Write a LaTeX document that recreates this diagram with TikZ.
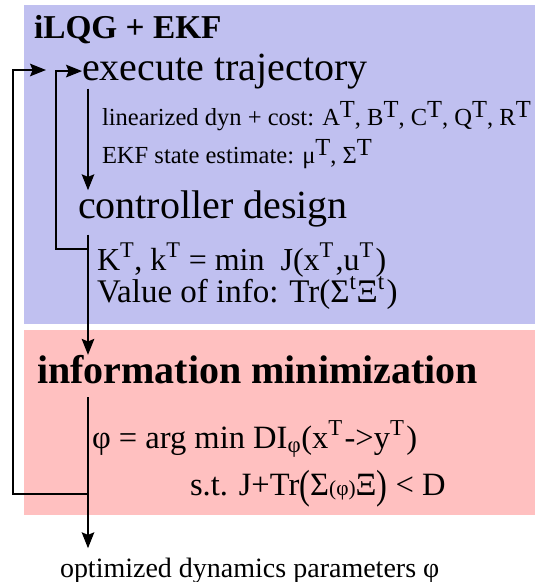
\documentclass[tikz,border=0pt]{standalone}
\usepackage{fontspec}
\setmainfont{Liberation Serif}
\usetikzlibrary{arrows.meta,calc}
\definecolor{loopblue}{RGB}{192,192,240}
\definecolor{infopink}{RGB}{255,192,192}
% full-size raised superscript used in the small annotation lines
\newcommand\upT[1]{\raisebox{0.3em}{#1}}
% small superscript followed by a little breathing room
\newcommand\supT[1]{\textsuperscript{#1}\kern1.2pt}
% tall parentheses for the constraint line
\newcommand\tallpar[1]{\raisebox{-0.12em}{\scalebox{1}[1.25]{#1}}}
\begin{document}
\begin{tikzpicture}[x=0.75pt,y=-0.75pt,
  txt/.style={anchor=base west,inner sep=0pt,outer sep=0pt},
  head/.style={txt,font=\fontsize{30pt}{36pt}\selectfont},
  note/.style={txt,font=\fontsize{18.4pt}{22pt}\selectfont},
  formula/.style={txt,font=\fontsize{24.2pt}{30pt}\selectfont},
  arr/.style={draw,line width=0.9pt,-{Stealth[length=12pt,width=9.5pt,inset=2pt]}},
  wire/.style={draw,line width=0.9pt}]
\useasboundingbox (0,0) rectangle (535,582);

% stage panels
\fill[loopblue] (24,5) rectangle (535,324);
\fill[infopink] (24,330) rectangle (535,515);

% texts
\node[txt,font=\fontsize{25pt}{29pt}\selectfont\bfseries] (title) at (34,38) {iLQG + EKF};
\node[head] (exec) at (82,80) {execute trajectory};
\node[note] (lin) at (102,125) {linearized dyn + cost: A\upT{T}, B\upT{T}, C\upT{T}, Q\upT{T}, R\upT{T}};
\node[note] (ekf) at (102,163) {EKF state estimate: μ\upT{T}, Σ\upT{T}};
\node[head] (ctrl) at (78,218) {controller design};
\node[formula,font=\fontsize{24pt}{30pt}\selectfont] (kline) at (97,270) {K\textsuperscript{T}, k\textsuperscript{T} = min\ \ J(x\supT{T},u\supT{T})};
\node[formula,font=\fontsize{24.75pt}{30pt}\selectfont] (voi) at (97,302) {Value of info: Tr(Σ\textsuperscript{t}Ξ\supT{t})};
\node[head,font=\fontsize{30pt}{36pt}\selectfont\bfseries] (info) at (37,383) {information minimization};
\node[formula,font=\fontsize{24.4pt}{30pt}\selectfont] (phi) at (92,448) {φ = arg min DI\textsubscript{φ}(x\supT{T}->y\supT{T})};
\node[formula,font=\fontsize{24.4pt}{30pt}\selectfont] (st) at (190,495) {s.t. J+Tr\tallpar{(}Σ{\fontsize{16pt}{20pt}\selectfont(φ)}Ξ\tallpar{)} < D};
\node[txt,font=\fontsize{21pt}{25pt}\selectfont] (out) at (60,577) {optimized dynamics parameters φ};

% routing helpers
\coordinate (spine) at (88,0);
\coordinate (outerx) at (13,0);
\coordinate (innerx) at (56,0);
\coordinate (innertap) at (88,249);
\coordinate (outertap) at (88,494);
\coordinate (entry) at (46,70);

% main flow
\draw[arr] (spine |- exec.south) -- (spine |- ctrl.north);
\draw[arr] ([yshift=-6pt]spine |- ctrl.south) -- (spine |- info.north);
\draw[arr] ([yshift=-10.5pt]spine |- info.south) -- ([yshift=7pt]spine |- out.north);

% feedback loops
\draw[arr] (innertap) -| (exec.west -| innerx) -- (exec.west);
\draw[arr] (outertap) -| (entry -| outerx) -- (entry);
\end{tikzpicture}
\end{document}
